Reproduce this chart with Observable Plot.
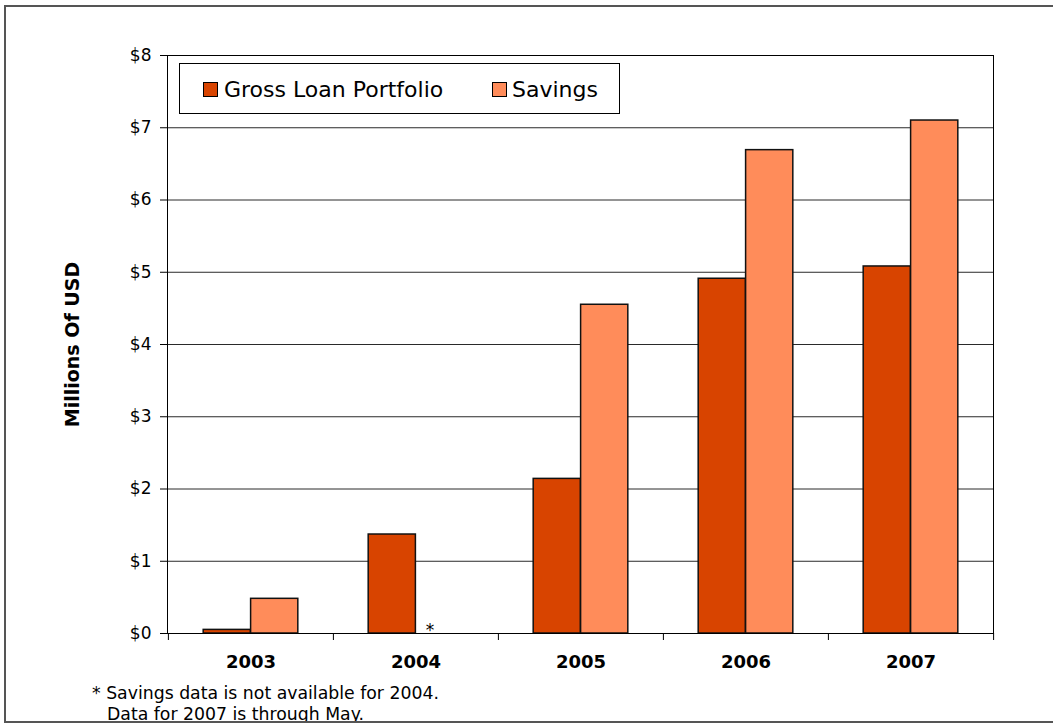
<!DOCTYPE html>
<html>
<head>
<meta charset="utf-8">
<script src="https://cdn.jsdelivr.net/npm/d3@7"></script>
<script src="https://cdn.jsdelivr.net/npm/@observablehq/plot@0.6"></script>
<style>
  html, body { margin: 0; padding: 0; background: #fff; overflow: hidden; }
  #wrap { position: relative; width: 1053px; height: 723px; font-family: "DejaVu Sans", Verdana, sans-serif; color: #000; }
  #wrap svg { position: absolute; left: 0; top: 0; }
  #border { position: absolute; left: 4px; top: 5px; width: 1100px; height: 718px; box-sizing: border-box; border: 2px solid #555; pointer-events: none; }
  #legend { position: absolute; left: 179px; top: 63px; width: 441px; height: 51px; box-sizing: border-box; border: 1px solid #000; background: #fff; }
  .sw { position: absolute; width: 15px; height: 15px; box-sizing: border-box; border: 1px solid #000; top: 18px; }
  .lt { position: absolute; top: 15px; font-size: 22px; line-height: 22px; white-space: nowrap; }
  .fn { position: absolute; font-size: 17.3px; line-height: 21px; white-space: pre; }
</style>
</head>
<body>
<div id="wrap"></div>
<script>
// ---- data ----
const years = ["2003", "2004", "2005", "2006", "2007"];
const loan = [0.05, 1.37, 2.14, 4.91, 5.08];
const savings = [0.48, null, 4.55, 6.69, 7.10];
const yTicks = [0, 1, 2, 3, 4, 5, 6, 7, 8];
const seriesNames = ["Gross Loan Portfolio", "Savings"];
const seriesColors = ["#D84400", "#FF8C5A"];
const yTitle = "Millions Of USD";
const missingYear = "2004";
const missingMark = "*";
const footnoteLines = ["* Savings data is not available for 2004.", "Data for 2007 is through May."];

// ---- layout ----
const W = 1053, H = 723, mL = 167, mR = 60, mT = 55, mB = 90;
const bw = (W - mL - mR) / years.length;
const outerInset = bw * 0.213;
const halfInset = bw / 2;

const loanRows = years.map((year, i) => ({year, value: loan[i]}));
const savRows = years.map((year, i) => ({year, value: savings[i]})).filter(d => d.value != null);
const missingRows = [{year: missingYear, value: 0, t: missingMark}];

const chart = Plot.plot({
  width: W, height: H,
  marginLeft: mL, marginRight: mR, marginTop: mT, marginBottom: mB,
  style: {fontFamily: "'DejaVu Sans', Verdana, sans-serif", fontSize: "17px", color: "#000", background: "transparent"},
  x: {type: "band", domain: years, padding: 0, label: null},
  y: {domain: [0, 8], label: null},
  marks: [
    Plot.ruleY(yTicks.filter(d => d > 0 && d < 8), {y: d => d, stroke: "#2a2a2a", strokeWidth: 1}),
    Plot.barY(loanRows, {x: "year", y: "value", fill: seriesColors[0], stroke: "#111", strokeWidth: 1.5, insetLeft: outerInset, insetRight: halfInset}),
    Plot.barY(savRows, {x: "year", y: "value", fill: seriesColors[1], stroke: "#111", strokeWidth: 1.5, insetLeft: halfInset, insetRight: outerInset}),
    Plot.text(missingRows, {x: "year", y: "value", text: "t", dx: 14, dy: 2, lineAnchor: "bottom", fontSize: 17, fill: "#000"}),
    Plot.ruleX(years, {x: d => d, y1: () => 0, y2: () => 0, dx: -bw / 2, insetBottom: -7, stroke: "#000"}),
    Plot.ruleX(years.slice(-1), {x: d => d, y1: () => 0, y2: () => 0, dx: bw / 2, insetBottom: -7, stroke: "#000"}),
    Plot.axisX({tickSize: 0, tickPadding: 22, fontWeight: "bold", fontSize: 18, label: null}),
    Plot.axisY({ticks: yTicks, tickSize: 7, tickPadding: 9, tickFormat: d => "$" + d, fontSize: 17, label: null}),
    Plot.text([yTitle], {frameAnchor: "left", textAnchor: "middle", rotate: -90, dx: -95, fontWeight: "bold", fontSize: 19, fill: "#000"}),
    Plot.frame({stroke: "#000"})
  ]
});

const wrap = document.getElementById("wrap");
wrap.appendChild(chart);

// legend
const legend = document.createElement("div");
legend.id = "legend";
const swX = [23, 312], txX = [44, 332];
seriesNames.forEach((name, i) => {
  const sw = document.createElement("div");
  sw.className = "sw";
  sw.style.left = swX[i] + "px";
  sw.style.background = seriesColors[i];
  legend.appendChild(sw);
  const t = document.createElement("div");
  t.className = "lt";
  t.style.left = txX[i] + "px";
  t.textContent = name;
  legend.appendChild(t);
});
wrap.appendChild(legend);

// footnotes
const fnPos = [[92, 683], [107, 704]];
footnoteLines.forEach((line, i) => {
  const d = document.createElement("div");
  d.className = "fn";
  d.style.left = fnPos[i][0] + "px";
  d.style.top = fnPos[i][1] + "px";
  d.textContent = line;
  wrap.appendChild(d);
});

const border = document.createElement("div");
border.id = "border";
wrap.appendChild(border);
</script>
</body>
</html>
